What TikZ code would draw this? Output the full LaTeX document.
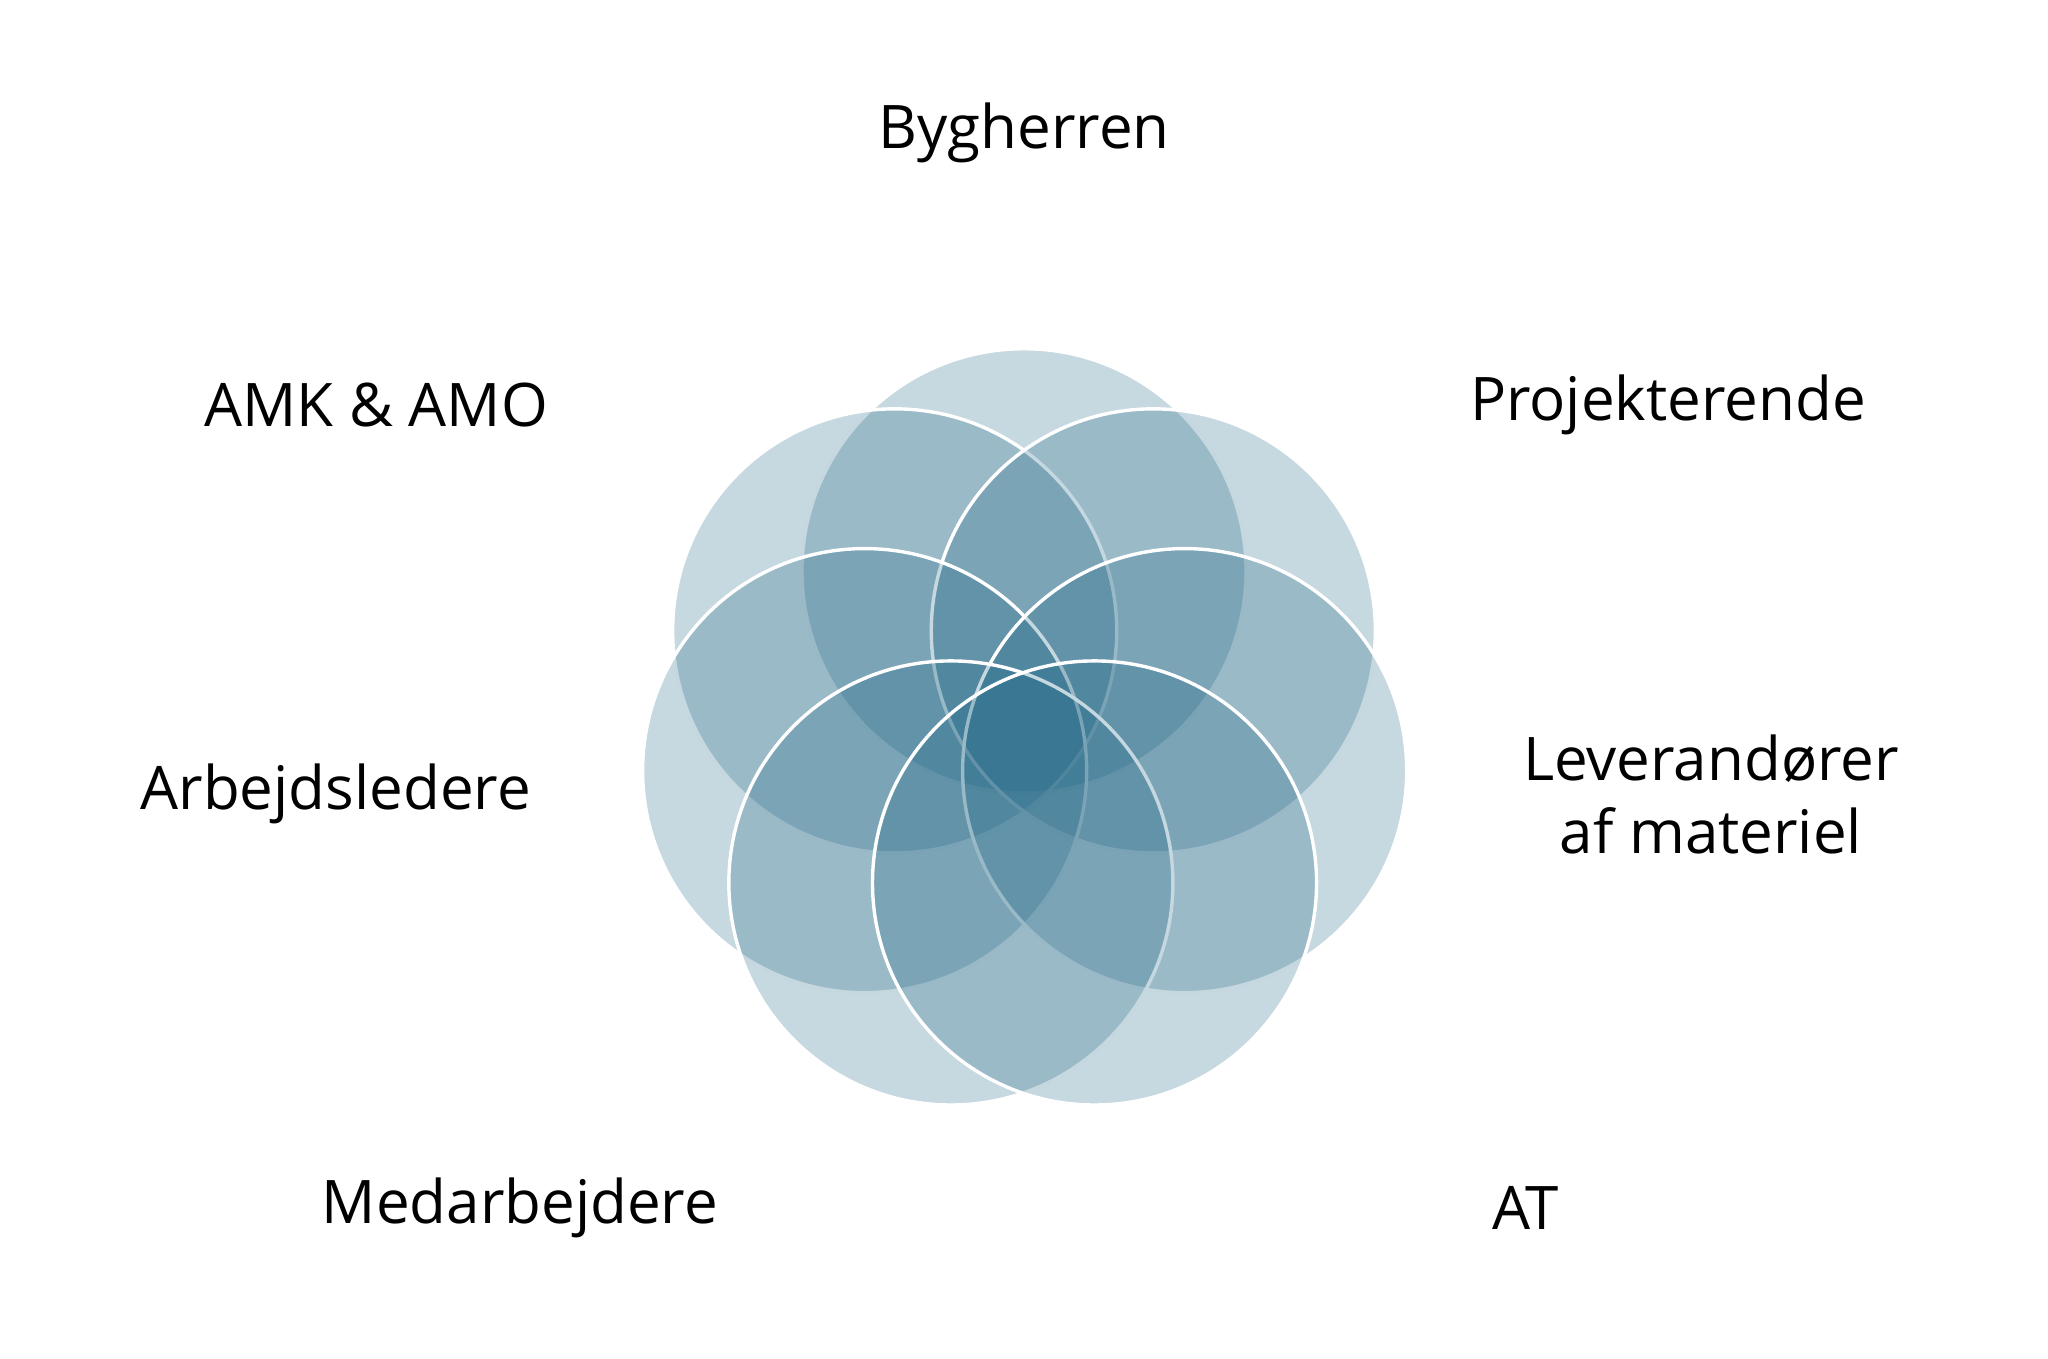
\documentclass[tikz,border=0pt]{standalone}
\usepackage{fontspec}
\setmainfont{Open Sans}
\definecolor{petal}{HTML}{1B6282}
\tikzset{petal/.style={fill=petal,fill opacity=0.25,draw=white,draw opacity=1,line width=1.3pt},
lab/.style={font=\fontsize{23}{28}\selectfont,align=center,text=black}}
\begin{document}
\begin{tikzpicture}[x=0.5pt,y=-0.5pt]
\useasboundingbox (0,0) rectangle (1568,1040);
\foreach \n/\x/\y in {a/784/437,b/685/483,c/883/483,d/662/590,e/907/590,f/728/676,g/838/676}
  \path[petal] (\x,\y) circle (170) coordinate (\n);
\node[lab] (t1) at (784,102) {Bygherren};
\node[lab] (t2) at (288,310) {AMK \& AMO};
\node[lab] (t3) at (1277,310) {Projekterende};
\node[lab] (t4) at (257,608) {Arbejdsledere};
\node[lab] (t5) at (1310,608) {Leverandører\\af materiel};
\node[lab] (t6) at (398,925) {Medarbejdere};
\node[lab] (t7) at (1168,925) {AT};
\end{tikzpicture}
\end{document}
